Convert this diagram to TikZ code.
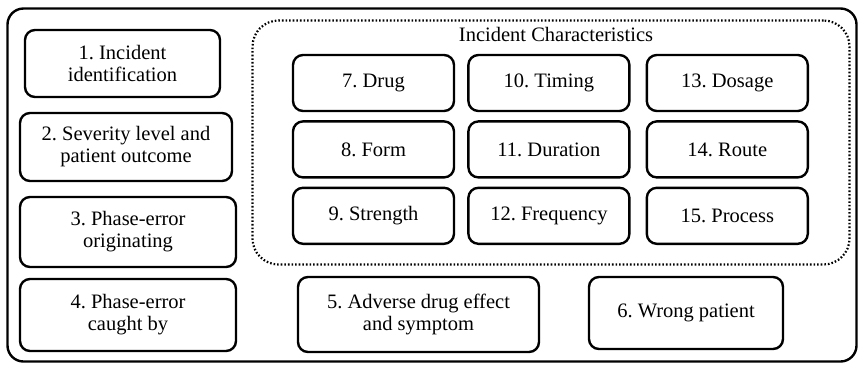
\documentclass[tikz,border=0pt]{standalone}
\usepackage{fontspec}
\setmainfont{Liberation Serif}
\usetikzlibrary{positioning}
\tikzstyle{field} = [rectangle, rounded corners=10pt, text centered, align=center, draw=black, line width=2.4pt, inner sep=2pt, font=\fontsize{20.5}{22}\selectfont\frenchspacing]
\tikzstyle{cell} = [field, minimum width=161pt, minimum height=56pt]
\tikzstyle{frame} = [rectangle, rounded corners=16pt, draw=black, line width=2.4pt]
\tikzstyle{group} = [rectangle, rounded corners=26pt, draw=black, line width=2.2pt, dash pattern=on 1.6pt off 2pt]

\begin{document}
\begin{tikzpicture}[x=1pt, y=-1pt]
    \useasboundingbox (0,0) rectangle (861,368);
    % Outer frame and dotted group
    \node (frame) [frame, minimum width=849pt, minimum height=353pt] at (432,185) {};
    \node (chars) [group, minimum width=597pt, minimum height=244pt] at (551,142.5) {};
    \node (title) [font=\fontsize{20.5}{22}\selectfont] at (556,34) {Incident Characteristics};

    % Left column
    \node (ident) [field, minimum width=195pt, minimum height=67pt] at (122.5,63.5) {1. Incident\\identification};
    \node (severity) [field, minimum width=212pt, minimum height=68pt] at (126,147) {2. Severity level and\\patient outcome};
    \node (origin) [field, minimum width=216pt, minimum height=70pt] at (128,232) {3. Phase-error\\originating};
    \node (caught) [field, minimum width=216pt, minimum height=72pt] at (128,315) {4. Phase-error\\caught by};

    % Incident characteristics grid
    \node (drug) [cell] at (373.5,83) {7. Drug};
    \node (form) [cell, below=8pt of drug] {8. Form};
    \node (strength) [cell, below=8pt of form] {9. Strength};
    \node (timing) [cell, right=12pt of drug] {10. Timing};
    \node (duration) [cell, below=8pt of timing] {11. Duration};
    \node (frequency) [cell, below=8pt of duration] {12. Frequency};
    \node (dosage) [cell, right=15pt of timing] {13. Dosage};
    \node (route) [cell, below=8pt of dosage] {14. Route};
    \node (process) [cell, below=8pt of route] {15. Process};

    % Bottom row
    \node (adverse) [field, minimum width=241pt, minimum height=75pt] at (418.5,314.5) {5. Adverse drug effect\\and symptom};
    \node (wrong) [field, minimum width=194pt, minimum height=72pt] at (686,313) {6. Wrong patient};
\end{tikzpicture}
\end{document}
